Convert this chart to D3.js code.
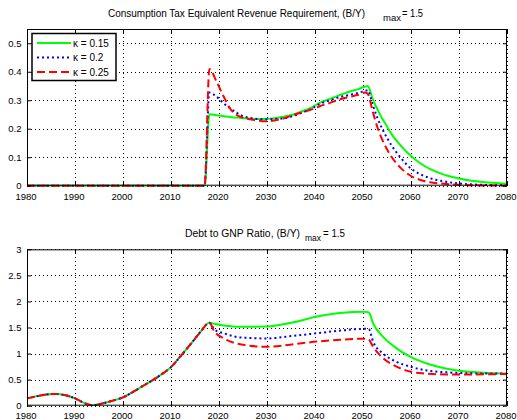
<!DOCTYPE html>
<html>
<head>
<meta charset="utf-8">
<script src="https://cdn.jsdelivr.net/npm/d3@7"></script>
<style>
  html, body { margin: 0; padding: 0; background: #fff; }
  svg { display: block; }
  text { font-family: "Liberation Sans", Arial, Helvetica, sans-serif; fill: #000; }
</style>
</head>
<body>
<svg id="chart" width="517" height="420"></svg>
<script>
// ---- Consumption tax equivalent revenue requirement ----
const taxYears = [1980, 2017, 2018, 2019.5, 2021, 2022.3, 2023.7, 2025, 2026.5, 2028, 2029.6, 2031.5, 2033.4, 2035.5, 2037, 2039, 2041, 2043, 2045, 2047, 2049, 2050.5, 2051, 2052, 2053, 2054, 2055, 2056, 2058, 2060, 2062, 2064, 2066, 2068, 2070, 2072, 2075, 2080];
const taxK015 = [0, 0, 0.251, 0.247, 0.244, 0.241, 0.239, 0.237, 0.235, 0.234, 0.234, 0.237, 0.242, 0.250, 0.259, 0.272, 0.291, 0.304, 0.317, 0.329, 0.339, 0.348, 0.350, 0.305, 0.268, 0.236, 0.208, 0.180, 0.138, 0.104, 0.078, 0.058, 0.044, 0.033, 0.025, 0.019, 0.013, 0.007];
const taxK020 = [0, 0, 0.327, 0.312, 0.289, 0.272, 0.256, 0.244, 0.238, 0.234, 0.233, 0.234, 0.236, 0.245, 0.254, 0.268, 0.287, 0.299, 0.310, 0.318, 0.326, 0.333, 0.335, 0.285, 0.238, 0.200, 0.168, 0.140, 0.095, 0.060, 0.040, 0.026, 0.018, 0.012, 0.008, 0.005, 0.003, 0.001];
const taxK025 = [0, 0, 0.410, 0.365, 0.312, 0.271, 0.248, 0.239, 0.233, 0.229, 0.226, 0.229, 0.236, 0.248, 0.256, 0.266, 0.279, 0.290, 0.302, 0.311, 0.319, 0.327, 0.322, 0.262, 0.205, 0.162, 0.128, 0.100, 0.060, 0.034, 0.020, 0.012, 0.008, 0.005, 0.003, 0.002, 0.001, 0];

// ---- Debt to GNP ratio (common history up to 2018) ----
const debtHistYears = [1980, 1982, 1984, 1986, 1988, 1990, 1992, 1993.5, 1996, 1998, 2000, 2002, 2004, 2006, 2008, 2010, 2012, 2014, 2016, 2018];
const debtHist = [0.14, 0.18, 0.215, 0.225, 0.20, 0.14, 0.05, 0.01, 0.05, 0.10, 0.16, 0.26, 0.37, 0.48, 0.60, 0.74, 0.95, 1.17, 1.40, 1.59];
const debtYears = [2018, 2019, 2021, 2024.4, 2030, 2035.5, 2040.4, 2045.2, 2050.5, 2051.2, 2052.1, 2054.2, 2057, 2059.8, 2063.3, 2067.4, 2073, 2080];
const debtK015 = [1.59, 1.57, 1.54, 1.515, 1.52, 1.60, 1.71, 1.78, 1.80, 1.79, 1.58, 1.32, 1.10, 0.94, 0.81, 0.71, 0.645, 0.615];
const debtK020 = [1.59, 1.465, 1.39, 1.31, 1.29, 1.34, 1.39, 1.44, 1.475, 1.47, 1.23, 1.00, 0.84, 0.75, 0.675, 0.64, 0.62, 0.615];
const debtK025 = [1.59, 1.43, 1.29, 1.18, 1.13, 1.18, 1.23, 1.265, 1.285, 1.27, 1.13, 0.91, 0.75, 0.655, 0.615, 0.60, 0.60, 0.61];

const kappaLabels = ["\u03ba = 0.15", "\u03ba = 0.2", "\u03ba = 0.25"];
const xTicks = [1980, 1990, 2000, 2010, 2020, 2030, 2040, 2050, 2060, 2070, 2080];
const taxTicks = [0, 0.1, 0.2, 0.3, 0.4, 0.5];
const debtTicks = [0, 0.5, 1, 1.5, 2, 2.5, 3];

const styles = [
  { color: "#00ff00", dash: null },
  { color: "#0000ff", dash: "2,3" },
  { color: "#ff0000", dash: "8,4" }
];

const svg = d3.select("#chart");
const left = 27, right = 507;

function panel(cfg) {
  const x = d3.scaleLinear().domain([1980, 2080]).range([left, right]);
  const y = d3.scaleLinear().domain(cfg.yDomain).range([cfg.bottom, cfg.top]);
  const g = svg.append("g");

  g.append("rect").attr("x", left).attr("y", cfg.top)
    .attr("width", right - left).attr("height", cfg.bottom - cfg.top)
    .attr("fill", "#fff");

  // dotted grid
  const grid = g.append("g").attr("stroke", "#000").attr("stroke-width", 1)
    .attr("stroke-dasharray", "1,3").attr("shape-rendering", "crispEdges");
  xTicks.forEach(t => grid.append("line")
    .attr("x1", Math.round(x(t)) + 0.5).attr("x2", Math.round(x(t)) + 0.5)
    .attr("y1", cfg.top).attr("y2", cfg.bottom));
  cfg.yTicks.forEach(t => grid.append("line")
    .attr("x1", left).attr("x2", right)
    .attr("y1", Math.round(y(t)) + 0.5).attr("y2", Math.round(y(t)) + 0.5));

  // series lines
  const line = d3.line().x(d => x(d[0])).y(d => y(d[1])).curve(d3.curveMonotoneX);
  cfg.series.forEach((s, i) => {
    const p = g.append("path").datum(s).attr("d", line)
      .attr("fill", "none").attr("stroke", styles[i].color)
      .attr("stroke-width", 2);
    if (styles[i].dash) p.attr("stroke-dasharray", styles[i].dash);
  });

  // axes with inward ticks, box on
  const fmt = d => String(d);
  g.append("g").attr("transform", `translate(0,${cfg.bottom})`)
    .call(d3.axisBottom(x).tickValues(xTicks).tickFormat(fmt).tickSizeInner(-4).tickSizeOuter(0))
    .call(a => a.select(".domain").remove())
    .call(a => a.selectAll(".tick text").attr("y", cfg.xLabelDy).attr("dy", 0).attr("dx", -1.5));
  g.append("g").attr("transform", `translate(0,${cfg.top})`)
    .call(d3.axisTop(x).tickValues(xTicks).tickFormat("").tickSizeInner(-4).tickSizeOuter(0))
    .call(a => a.select(".domain").remove());
  g.append("g").attr("transform", `translate(${left},0)`)
    .call(d3.axisLeft(y).tickValues(cfg.yTicks).tickFormat(fmt).tickSizeInner(-4).tickSizeOuter(0))
    .call(a => a.select(".domain").remove())
    .call(a => a.selectAll(".tick text").attr("x", -5.5));
  g.append("g").attr("transform", `translate(${right},0)`)
    .call(d3.axisRight(y).tickValues(cfg.yTicks).tickFormat("").tickSizeInner(-4).tickSizeOuter(0))
    .call(a => a.select(".domain").remove());
  g.selectAll(".tick text").attr("font-size", 9.5).style("font-family", "'Liberation Sans', Arial, sans-serif");
  g.selectAll(".tick line").attr("stroke", "#000");

  g.append("rect").attr("x", left + 0.5).attr("y", cfg.top + 0.5)
    .attr("width", right - left - 1).attr("height", cfg.bottom - cfg.top - 1)
    .attr("fill", "none").attr("stroke", "#000").attr("stroke-width", 1);

  // title: main text, "max" subscript, then "= 1.5"
  const tt = cfg.title;
  g.append("text").attr("font-size", 10).attr("x", tt.x0).attr("y", tt.base)
    .attr("textLength", tt.x1 - tt.x0).attr("lengthAdjust", "spacingAndGlyphs").text(tt.text);
  g.append("text").attr("font-size", 8.5).attr("x", tt.sx0).attr("y", tt.base + 4.8)
    .attr("textLength", tt.sx1 - tt.sx0).attr("lengthAdjust", "spacingAndGlyphs").text("max");
  g.append("text").attr("font-size", 10).attr("x", tt.ex0).attr("y", tt.base)
    .attr("textLength", tt.ex1 - tt.ex0).attr("lengthAdjust", "spacingAndGlyphs").text("= 1.5");
  return { g, x, y };
}

const zip = (xs, ys) => xs.map((v, i) => [v, ys[i]]);

panel({
  top: 29, bottom: 185.7, yDomain: [0, 0.55], yTicks: taxTicks, xLabelDy: 14.3,
  series: [zip(taxYears, taxK015), zip(taxYears, taxK020), zip(taxYears, taxK025)],
  title: { text: "Consumption Tax Equivalent Revenue Requirement, (B/Y)", x0: 108, x1: 365,
           sx0: 383, sx1: 401, ex0: 402, ex1: 423, base: 16.5 }
});

panel({
  top: 249.3, bottom: 405.7, yDomain: [0, 3], yTicks: debtTicks, xLabelDy: 13.5,
  series: [
    zip(debtHistYears, debtHist).concat(zip(debtYears, debtK015).slice(1)),
    zip(debtHistYears, debtHist).concat(zip(debtYears, debtK020).slice(1)),
    zip(debtHistYears, debtHist).concat(zip(debtYears, debtK025).slice(1))
  ],
  title: { text: "Debt to GNP Ratio, (B/Y)", x0: 185, x1: 300,
           sx0: 305, sx1: 321, ex0: 323, ex1: 345, base: 236.5 }
});

// legend
const lg = svg.append("g");
lg.append("rect").attr("x", 32).attr("y", 33.5).attr("width", 84).attr("height", 47)
  .attr("fill", "#fff").attr("stroke", "#000").attr("stroke-width", 1.5);
kappaLabels.forEach((lab, i) => {
  const yy = 43 + i * 14.5;
  const l = lg.append("line").attr("x1", 37).attr("x2", 71).attr("y1", yy).attr("y2", yy)
    .attr("stroke", styles[i].color).attr("stroke-width", 2);
  if (styles[i].dash) l.attr("stroke-dasharray", styles[i].dash);
  lg.append("text").attr("x", 73).attr("y", yy + 3.5).attr("font-size", 10).text(lab);
});
</script>
</body>
</html>
